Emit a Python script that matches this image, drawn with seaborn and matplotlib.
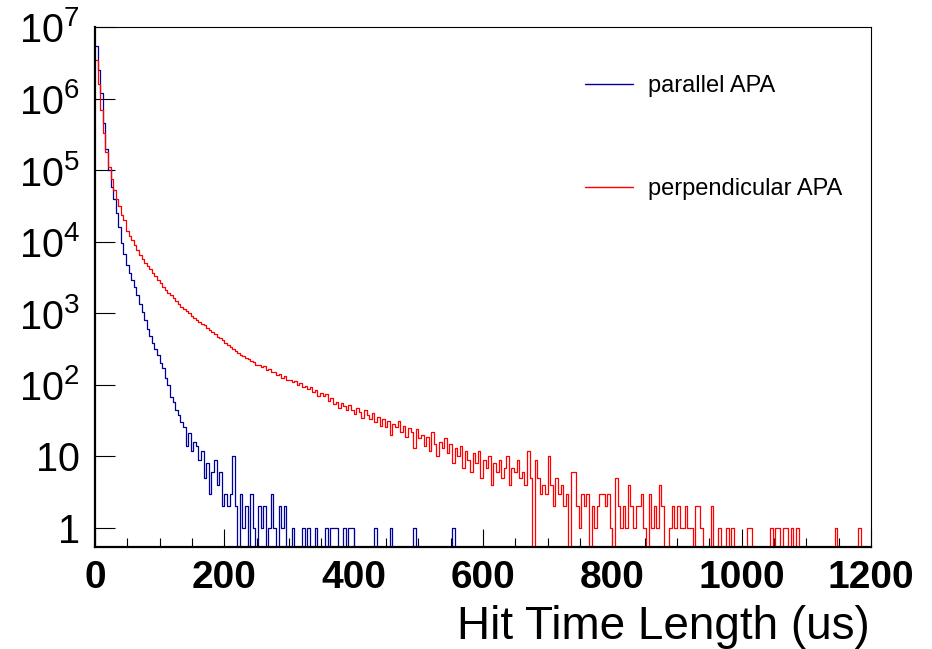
import numpy as np
import pandas as pd
import matplotlib
matplotlib.use("Agg")
import matplotlib.pyplot as plt
import seaborn as sns
from matplotlib.lines import Line2D
from matplotlib.ticker import MultipleLocator, LogLocator, NullFormatter

# ---------------- data (counts per 4 us bin, 0..1200 us) ----------------
bin_width = 4
series_names = ["parallel APA", "perpendicular APA"]

parallel_counts = [
    5500000, 2500000, 1200000, 450000, 200000, 100000, 58000, 39000, 25000, 16000,
    9500, 6800, 4700, 3700, 2900, 2350, 1800, 1350, 1050, 800,
    600, 480, 390, 320, 260, 200, 170, 125, 100, 68,
    58, 44, 38, 30, 26, 14, 21, 12, 16, 14,
    9, 12, 5, 8, 3, 6, 9, 4, 6, 2,
    3, 2, 3, 10, 2, 0, 3, 1, 2, 0,
    3, 1, 0, 2, 1, 2, 0, 1, 3, 1,
    0, 2, 1, 2, 0, 0, 1, 0, 0, 0,
    1, 0, 1, 0, 0, 1, 0, 0, 0, 1,
    0, 1, 1, 1, 0, 0, 1, 0, 1, 1,
    0, 0, 0, 0, 0, 0, 0, 0, 1, 0,
    0, 0, 0, 0, 1, 0, 0, 0, 0, 0,
    0, 0, 0, 1, 0, 0, 0, 0, 0, 0,
    0, 0, 0, 0, 0, 0, 0, 0, 1, 0,
    0, 0, 0, 0, 0, 0, 0, 0, 0, 0,
    0, 0, 0, 0, 0, 0, 0, 0, 0, 0,
    0, 0, 0, 0, 0, 0, 0, 0, 0, 0,
    0, 0, 0, 0, 0, 0, 0, 0, 0, 0,
    0, 0, 0, 0, 0, 0, 0, 0, 0, 0,
    0, 0, 0, 0, 0, 0, 0, 0, 0, 0,
    0, 0, 0, 0, 0, 0, 0, 0, 0, 0,
    0, 0, 0, 0, 0, 0, 0, 0, 0, 0,
    0, 0, 0, 0, 0, 0, 0, 0, 0, 0,
    0, 0, 0, 0, 0, 0, 0, 0, 0, 0,
    0, 0, 0, 0, 0, 0, 0, 0, 0, 0,
    0, 0, 0, 0, 0, 0, 0, 0, 0, 0,
    0, 0, 0, 0, 0, 0, 0, 0, 0, 0,
    0, 0, 0, 0, 0, 0, 0, 0, 0, 0,
    0, 0, 0, 0, 0, 0, 0, 0, 0, 0,
    0, 0, 0, 0, 0, 0, 0, 0, 0, 0,
]

perpendicular_counts = [
    3500000, 1600000, 700000, 330000, 180000, 110000, 75000, 52000, 40000, 32000,
    24000, 20000, 14000, 12000, 10500, 8900, 7600, 6500, 5700, 5100,
    4600, 4100, 3600, 3300, 2950, 2650, 2350, 2150, 1950, 1780,
    1620, 1480, 1350, 1230, 1150, 1070, 1000, 930, 870, 810,
    760, 720, 680, 630, 590, 550, 510, 470, 445, 420,
    390, 365, 340, 315, 300, 280, 262, 255, 236, 232,
    218, 210, 192, 190, 176, 181, 160, 166, 150, 152,
    137, 140, 124, 131, 116, 118, 108, 112, 101, 106,
    92, 98, 87, 93, 80, 84, 71, 78, 69, 74,
    60, 66, 54, 58, 47, 55, 50, 44, 52, 45,
    39, 48, 42, 35, 44, 38, 33, 40, 30, 36,
    27, 33, 26, 31, 20, 28, 26, 31, 22, 27,
    19, 25, 22, 13, 24, 18, 20, 14, 19, 12,
    22, 15, 10, 16, 13, 18, 11, 15, 8, 13,
    10, 14, 7, 12, 9, 6, 11, 8, 12, 5,
    9, 7, 10, 4, 8, 6, 9, 5, 7, 10,
    4, 7, 6, 9, 5, 6, 4, 12, 5, 0,
    9, 5, 3, 4, 3, 10, 4, 2, 5, 3,
    4, 2, 3, 0, 6, 6, 2, 1, 3, 2,
    3, 0, 2, 1, 2, 3, 3, 2, 3, 1,
    0, 5, 2, 1, 2, 1, 4, 2, 1, 2,
    2, 3, 1, 0, 3, 1, 2, 1, 4, 2,
    0, 0, 1, 2, 1, 2, 1, 1, 2, 1,
    1, 0, 2, 2, 1, 0, 0, 0, 2, 0,
    0, 1, 0, 0, 1, 0, 1, 0, 0, 0,
    0, 0, 1, 1, 0, 0, 0, 0, 0, 0,
    0, 1, 0, 1, 1, 0, 1, 1, 0, 1,
    0, 1, 0, 0, 0, 0, 0, 0, 0, 0,
    0, 0, 0, 0, 0, 0, 1, 0, 0, 0,
    0, 0, 0, 0, 0, 1, 0, 0, 0, 0,
]

x_tick_values = [0, 200, 400, 600, 800, 1000, 1200]
x_tick_labels = ["0", "200", "400", "600", "800", "1000", "1200"]
y_tick_values = [1, 10, 100, 1000, 10000, 100000, 1000000, 10000000]
y_tick_labels = ["1", "10", r"$\mathregular{10^{2}}$", r"$\mathregular{10^{3}}$",
                 r"$\mathregular{10^{4}}$", r"$\mathregular{10^{5}}$",
                 r"$\mathregular{10^{6}}$", r"$\mathregular{10^{7}}$"]
x_label = "Hit Time Length (us)"

# ---------------- build table ----------------
n_bins = len(perpendicular_counts)
centers = np.arange(n_bins) * bin_width + bin_width / 2
df = pd.DataFrame({
    "t": np.concatenate([centers, centers]),
    "count": np.array(parallel_counts + perpendicular_counts, dtype=float),
    "series": [series_names[0]] * n_bins + [series_names[1]] * n_bins,
})

# ---------------- style ----------------
sns.set_style("white")
plt.rcParams["font.family"] = ["Liberation Sans", "DejaVu Sans"]
plt.rcParams["mathtext.default"] = "regular"
plt.rcParams["text.color"] = "black"
plt.rcParams["xtick.color"] = "black"
plt.rcParams["ytick.color"] = "black"
plt.rcParams["axes.edgecolor"] = "black"

colors = {series_names[0]: "#000099", series_names[1]: "#ff0000"}

fig = plt.figure(figsize=(9.32, 6.49), dpi=100)
ax = fig.add_axes([95 / 932, 1 - 547 / 649, (871 - 95) / 932, (547 - 27) / 649])

for name in series_names:
    sub = df[df["series"] == name].reset_index(drop=True)
    sns.histplot(data=sub, x="t", weights="count", binwidth=bin_width,
                 binrange=(0, n_bins * bin_width),
                 element="step", fill=False, color=colors[name], linewidth=0.9,
                 ax=ax, legend=False)

ax.set_yscale("log")
ax.set_xlim(0, 1200)
ax.set_ylim(10 ** -0.265, 1e7)

ax.set_xticks(x_tick_values, x_tick_labels)
ax.xaxis.set_minor_locator(MultipleLocator(50))
ax.set_yticks(y_tick_values, y_tick_labels)
ax.yaxis.set_minor_locator(LogLocator(base=10, subs=np.arange(2, 10)))
ax.yaxis.set_minor_formatter(NullFormatter())

ax.tick_params(axis="x", which="major", direction="in", length=13, width=0.8,
               labelsize=28, pad=9, bottom=True, top=False, colors="black")
ax.tick_params(axis="x", which="minor", direction="in", length=6.5, width=0.8,
               bottom=True, top=False, colors="black")
ax.tick_params(axis="y", which="major", direction="in", length=14.5, width=0.8,
               labelsize=28.5, pad=11, left=True, right=False, colors="black")
ax.tick_params(axis="y", which="minor", direction="in", length=6.5, width=0.8,
               left=True, right=False, colors="black")
for lab in ax.get_xticklabels():
    lab.set_fontweight("bold")

ax.set_xlabel("")
ax.set_ylabel("")
for side in ["left", "bottom"]:
    ax.spines[side].set_linewidth(1.6)
    ax.spines[side].set_color("black")
for side in ["top", "right"]:
    ax.spines[side].set_linewidth(0.8)
    ax.spines[side].set_color("black")

fig.text(870 / 932, 1 - 639 / 649, x_label, ha="right", va="baseline", fontsize=33,
         color="black")

handles = [Line2D([], [], color=colors[n], linewidth=1.0) for n in series_names]
fig.legend(handles, series_names, loc="upper left",
           bbox_to_anchor=(585 / 932, 1 - 75 / 649), bbox_transform=fig.transFigure,
           frameon=False, fontsize=17, handlelength=2.05, handletextpad=0.6,
           labelspacing=3.45, borderpad=0, borderaxespad=0, labelcolor="black")

fig.savefig("out.png", dpi=100, facecolor="white")
